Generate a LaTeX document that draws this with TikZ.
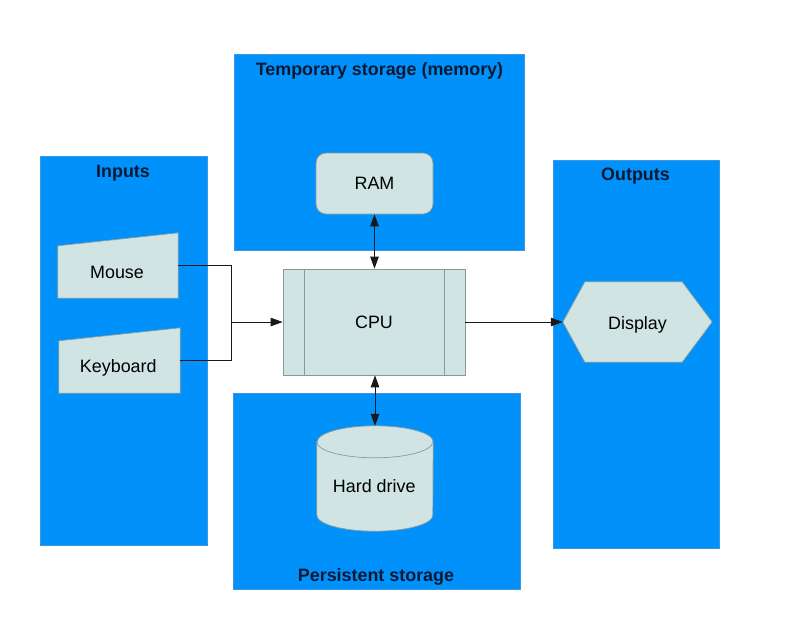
\documentclass[tikz,border=0pt]{standalone}
\usepackage{fontspec}
\setmainfont{Liberation Sans}
\usetikzlibrary{calc,arrows.meta}
\definecolor{panelblue}{RGB}{0,145,250}
\definecolor{paneledge}{RGB}{60,150,225}
\definecolor{boxfill}{RGB}{208,228,228}
\definecolor{boxedge}{RGB}{135,155,155}
\definecolor{titlecol}{RGB}{10,25,50}
\definecolor{wirecol}{RGB}{25,25,25}
\begin{document}
\begin{tikzpicture}[x=1pt,y=-1pt,
 panel/.style={fill=panelblue,draw=paneledge,line width=0.6pt},
 title/.style={font=\fontsize{17.9}{20}\selectfont\bfseries,text=titlecol,anchor=base,inner sep=0pt},
 lbl/.style={font=\fontsize{17.9}{20}\selectfont,text=black,inner sep=0pt,text height=12.8pt,text depth=0pt},
 shapebox/.style={draw=none,inner sep=0pt},
 boxpath/.style={fill=boxfill,draw=boxedge,line width=0.7pt},
 wire/.style={draw=wirecol,line width=0.8pt},
 tip/.style={-{Triangle[length=12pt,width=8.5pt]}},
 tips/.style={{Triangle[length=12pt,width=8.5pt]}-{Triangle[length=12pt,width=8.5pt]}},
]
\useasboundingbox[fill=white] (0,0) rectangle (800,619);

% panels
\path[panel] (40,156) rectangle (207,545);
\path[panel] (234,54) rectangle (524,250);
\path[panel] (233,393) rectangle (520,589);
\path[panel] (553,160) rectangle (719,548);

% titles
\node[title] (tin) at (123,177) {Inputs};
\node[title] (ttemp) at (379.5,75) {Temporary storage (memory)};
\node[title] (tpers) at (376,581) {Persistent storage};
\node[title] (tout) at (635.5,180) {Outputs};

% mouse
\node[shapebox,minimum width=120pt,minimum height=65pt] (mouse) at (118,265.5) {};
\path[boxpath] (mouse.south west) -- (mouse.south east) -- (mouse.north east) -- ($(mouse.north west)+(0,13)$) -- cycle;
\node[lbl] (mousetxt) at (117,272) {Mouse};

% keyboard
\node[shapebox,minimum width=121pt,minimum height=65pt] (kbd) at (119.5,360.5) {};
\path[boxpath] (kbd.south west) -- (kbd.south east) -- (kbd.north east) -- ($(kbd.north west)+(0,13)$) -- cycle;
\node[lbl] (kbdtxt) at (118.3,366.4) {Keyboard};

% CPU
\node[lbl,fill=boxfill,draw=boxedge,line width=0.7pt,minimum width=182pt,minimum height=106pt] (cpu) at (374,322) {CPU};
\draw[boxedge,line width=0.7pt] ($(cpu.north west)+(22,0)$) -- ($(cpu.south west)+(22,0)$);
\draw[boxedge,line width=0.7pt] ($(cpu.north east)+(-21,0)$) -- ($(cpu.south east)+(-21,0)$);

% RAM
\node[lbl,fill=boxfill,draw=boxedge,line width=0.7pt,rounded corners=10pt,minimum width=117pt,minimum height=61pt] (ram) at (374.5,183.5) {RAM};

% hard drive
\node[shapebox,minimum width=116pt,minimum height=105pt] (hd) at (375,478.5) {};
\path[boxpath] ($(hd.north west)+(0,16)$) -- ($(hd.south west)+(0,-16)$)
  arc[start angle=180,end angle=360,x radius=58pt,y radius=16pt]
  -- ($(hd.north east)+(0,16)$)
  arc[start angle=0,end angle=180,x radius=58pt,y radius=16pt] -- cycle;
\draw[boxedge,line width=0.7pt] ($(hd.north west)+(0,16)$) arc[start angle=180,end angle=360,x radius=58pt,y radius=16pt];
\node[lbl] (hdtxt) at (374.2,486.4) {Hard drive};

% display
\node[shapebox,minimum width=149pt,minimum height=80pt] (disp) at (637.5,322) {};
\path[boxpath] (disp.west) -- ($(disp.north west)+(22,0)$) -- ($(disp.north east)+(-30,0)$) -- (disp.east) -- ($(disp.south east)+(-30,0)$) -- ($(disp.south west)+(22,0)$) -- cycle;
\node[lbl] (disptxt) at (637.5,323) {Display};

% connectors
\coordinate (join) at (231,322);
\draw[wire] (mouse.east) -| (join);
\draw[wire] (kbd.east) -| (join);
\draw[wire,tip] (join) -- (cpu.west);
\draw[wire,tip] (cpu.east) -- (disp.west);
\draw[wire,tips] (ram.south) -- (ram.south |- cpu.north);
\draw[wire,tips] (hd.north |- cpu.south) -- (hd.north);
\end{tikzpicture}
\end{document}
